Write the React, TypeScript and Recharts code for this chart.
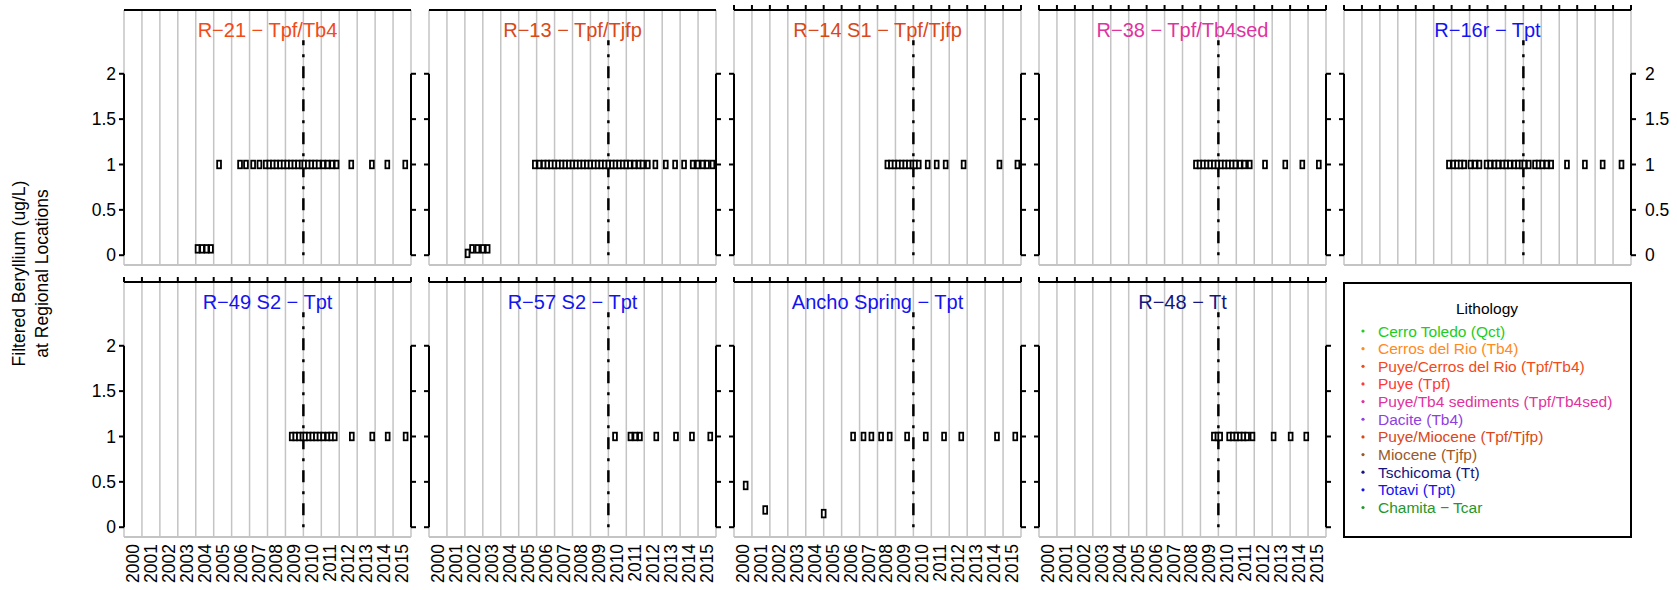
import { ScatterChart, Scatter, XAxis, YAxis, CartesianGrid, ReferenceLine } from 'recharts'

const FONT = '"Liberation Sans", Arial, Helvetica, sans-serif'
const GRID = '#c4c4c4'

// x axis: year boundaries (grid + top ticks) and year labels (centred in each year)
const yearTicks = [2000, 2001, 2002, 2003, 2004, 2005, 2006, 2007, 2008, 2009, 2010, 2011, 2012, 2013, 2014, 2015, 2016]
const yearLabels = ['2000', '2001', '2002', '2003', '2004', '2005', '2006', '2007', '2008', '2009', '2010', '2011', '2012', '2013', '2014', '2015']
const yTicks = [0, 0.5, 1, 1.5, 2]
const yDomain = [-0.108, 2.703]

// reference date line
const refYear = 2010
const refTop = 2.37

// [decimal year, Be ug/L]
const r21 = [
  [2004.1, 0.07], [2004.35, 0.07], [2004.6, 0.07], [2004.85, 0.07],
  [2005.3, 1], [2006.47, 1], [2006.8, 1], [2007.2, 1], [2007.55, 1],
  [2007.9, 1], [2008.1, 1], [2008.3, 1], [2008.5, 1], [2008.7, 1], [2008.9, 1], [2009.1, 1], [2009.3, 1],
  [2009.5, 1], [2009.7, 1], [2009.9, 1], [2010.05, 1], [2010.25, 1], [2010.45, 1], [2010.65, 1], [2010.85, 1],
  [2011.1, 1], [2011.35, 1], [2011.6, 1], [2011.85, 1],
  [2012.67, 1], [2013.82, 1], [2014.68, 1], [2015.68, 1],
]
const r13 = [
  [2002.15, 0.02], [2002.4, 0.07], [2002.7, 0.07], [2003.0, 0.07], [2003.27, 0.07],
  [2005.9, 1], [2006.15, 1], [2006.4, 1], [2006.6, 1], [2006.8, 1], [2007.0, 1], [2007.2, 1], [2007.4, 1],
  [2007.6, 1], [2007.8, 1], [2008.0, 1], [2008.2, 1], [2008.4, 1], [2008.6, 1], [2008.8, 1], [2009.0, 1],
  [2009.2, 1], [2009.4, 1], [2009.6, 1], [2009.8, 1], [2010.0, 1], [2010.2, 1], [2010.4, 1], [2010.6, 1],
  [2010.8, 1], [2011.0, 1], [2011.2, 1], [2011.45, 1], [2011.7, 1], [2011.9, 1],
  [2012.2, 1], [2012.62, 1], [2013.2, 1], [2013.72, 1], [2014.22, 1],
  [2014.7, 1], [2014.98, 1], [2015.25, 1], [2015.5, 1], [2015.8, 1],
]
const r14s1 = [
  [2008.55, 1], [2008.75, 1], [2008.95, 1], [2009.15, 1], [2009.35, 1], [2009.55, 1], [2009.75, 1],
  [2009.95, 1], [2010.1, 1], [2010.3, 1],
  [2010.8, 1], [2011.3, 1], [2011.8, 1], [2012.8, 1], [2014.8, 1], [2015.8, 1],
]
const r38 = [
  [2008.75, 1], [2008.95, 1], [2009.15, 1], [2009.35, 1], [2009.55, 1], [2009.75, 1], [2009.95, 1],
  [2010.15, 1], [2010.35, 1], [2010.55, 1], [2010.75, 1], [2010.95, 1], [2011.2, 1], [2011.45, 1], [2011.75, 1],
  [2012.6, 1], [2013.73, 1], [2014.68, 1], [2015.6, 1],
]
const r16r = [
  [2005.85, 1], [2006.1, 1], [2006.3, 1], [2006.5, 1], [2006.7, 1],
  [2007.05, 1], [2007.3, 1], [2007.55, 1],
  [2007.95, 1], [2008.15, 1], [2008.4, 1], [2008.6, 1], [2008.85, 1], [2009.05, 1], [2009.25, 1],
  [2009.5, 1], [2009.7, 1], [2009.9, 1], [2010.05, 1], [2010.3, 1],
  [2010.65, 1], [2010.85, 1], [2011.05, 1], [2011.3, 1], [2011.55, 1],
  [2012.43, 1], [2013.43, 1], [2014.42, 1], [2015.47, 1],
]
const r49s2 = [
  [2009.35, 1], [2009.55, 1], [2009.75, 1], [2009.95, 1], [2010.1, 1], [2010.3, 1], [2010.5, 1],
  [2010.7, 1], [2010.9, 1], [2011.1, 1], [2011.35, 1], [2011.55, 1], [2011.75, 1],
  [2012.7, 1], [2013.84, 1], [2014.7, 1], [2015.7, 1],
]
const r57s2 = [
  [2010.37, 1], [2011.23, 1], [2011.5, 1], [2011.76, 1],
  [2012.67, 1], [2013.77, 1], [2014.66, 1], [2015.68, 1],
]
const ancho = [
  [2000.65, 0.46], [2001.74, 0.19], [2005.0, 0.15],
  [2006.64, 1], [2007.22, 1], [2007.66, 1], [2008.2, 1], [2008.68, 1], [2009.65, 1],
  [2010.69, 1], [2011.71, 1], [2012.67, 1], [2014.66, 1], [2015.68, 1],
]
const r48 = [
  [2009.75, 1], [2009.95, 1], [2010.1, 1], [2010.6, 1], [2010.8, 1], [2011.0, 1], [2011.2, 1],
  [2011.4, 1], [2011.6, 1], [2011.9, 1], [2013.08, 1], [2014.03, 1], [2014.9, 1],
]

const lithologyNames = [
  'Cerro Toledo (Qct)',
  'Cerros del Rio (Tb4)',
  'Puye/Cerros del Rio (Tpf/Tb4)',
  'Puye (Tpf)',
  'Puye/Tb4 sediments (Tpf/Tb4sed)',
  'Dacite (Tb4)',
  'Puye/Miocene (Tpf/Tjfp)',
  'Miocene (Tjfp)',
  'Tschicoma (Tt)',
  'Totavi (Tpt)',
  'Chamita − Tcar',
]
const lithologyColors = [
  '#22cc22', '#ff8a1e', '#f24a18', '#ff3838', '#e0339f', '#8f3fe0',
  '#d9481a', '#9a5a2a', '#15157f', '#1414f0', '#26962a',
]

const panels = [
  { title: 'R−21 − Tpf/Tb4', lith: 2, data: r21, col: 0, row: 0 },
  { title: 'R−13 − Tpf/Tjfp', lith: 6, data: r13, col: 1, row: 0 },
  { title: 'R−14 S1 − Tpf/Tjfp', lith: 6, data: r14s1, col: 2, row: 0 },
  { title: 'R−38 − Tpf/Tb4sed', lith: 4, data: r38, col: 3, row: 0 },
  { title: 'R−16r − Tpt', lith: 9, data: r16r, col: 4, row: 0 },
  { title: 'R−49 S2 − Tpt', lith: 9, data: r49s2, col: 0, row: 1 },
  { title: 'R−57 S2 − Tpt', lith: 9, data: r57s2, col: 1, row: 1 },
  { title: 'Ancho Spring − Tpt', lith: 9, data: ancho, col: 2, row: 1 },
  { title: 'R−48 − Tt', lith: 8, data: r48, col: 3, row: 1 },
]

// layout
const PANEL_W = 287
const PANEL_H = 255
const colLeft = [124, 429, 734, 1039, 1344]
const rowTop = [10, 282]
const AX_W = 40
const TOP_H = 12
const BOT_H = 50
const CHART_W = PANEL_W + 2 * AX_W
const CHART_H = PANEL_H + TOP_H + BOT_H

const blackLine = { stroke: '#000', strokeWidth: 2 }
const tickText = { fill: '#000', fontSize: 17.5, fontFamily: FONT }

const NoTick = () => <g />

const YearTick = (props: any) => {
  const { x, payload } = props
  return (
    <text
      transform={`translate(${x},${TOP_H + PANEL_H + 7}) rotate(-90)`}
      textAnchor="end"
      dominantBaseline="central"
      fontSize={17.5}
      fontFamily={FONT}
      fill="#000"
    >
      {yearLabels[Math.floor(payload.value) - 2000]}
    </text>
  )
}

const Marker = (props: any) => {
  const { cx, cy } = props
  if (cx == null || cy == null) return <g />
  return <rect x={cx - 1.9} y={cy - 3.8} width={3.8} height={7.6} fill="#fff" stroke="#000" strokeWidth={1.8} />
}

function Panel({ p }: { p: typeof panels[number] }) {
  const points = p.data.map(([date, be]) => ({ date, be }))
  const leftLabels = p.col === 0
  const rightLabels = p.col === 4
  const topTicks = !(p.row === 0 && p.col < 2)
  const bottomLabels = p.row === 1
  return (
    <div style={{ position: 'absolute', left: colLeft[p.col] - AX_W, top: rowTop[p.row] - TOP_H, width: CHART_W, height: CHART_H }}>
      <ScatterChart width={CHART_W} height={CHART_H} margin={{ top: 0, right: 0, bottom: 0, left: 0 }}>
        <CartesianGrid xAxisId="top" yAxisId="left" horizontal={false} stroke={GRID} strokeWidth={1.5} />
        <XAxis
          xAxisId="top"
          orientation="top"
          type="number"
          dataKey="date"
          domain={[2000, 2016]}
          ticks={yearTicks}
          interval={0}
          height={TOP_H}
          stroke="#000"
          tick={NoTick}
          tickLine={topTicks ? blackLine : false}
          tickSize={5}
          axisLine={blackLine}
          allowDataOverflow
        />
        <XAxis
          xAxisId="bottom"
          orientation="bottom"
          type="number"
          dataKey="date"
          domain={[2000, 2016]}
          ticks={yearLabels.map((y) => Number(y) + 0.5)}
          interval={0}
          height={BOT_H}
          tick={bottomLabels ? YearTick : NoTick}
          tickLine={false}
          axisLine={{ stroke: GRID, strokeWidth: 2 }}
          allowDataOverflow
        />
        <YAxis
          yAxisId="left"
          orientation="left"
          type="number"
          dataKey="be"
          domain={yDomain}
          ticks={yTicks}
          interval={0}
          width={AX_W}
          stroke="#000"
          axisLine={false}
          tickLine={blackLine}
          tickSize={5}
          tickMargin={3}
          tick={leftLabels ? tickText : NoTick}
          allowDataOverflow
        />
        <YAxis
          yAxisId="right"
          orientation="right"
          type="number"
          dataKey="be"
          domain={yDomain}
          ticks={yTicks}
          interval={0}
          width={AX_W}
          stroke="#000"
          axisLine={false}
          tickLine={blackLine}
          tickSize={5}
          tickMargin={9}
          tick={rightLabels ? { ...tickText, textAnchor: 'start' } : NoTick}
          allowDataOverflow
        />
        <ReferenceLine xAxisId="top" yAxisId="left" segment={[{ x: 2000, y: 0 }, { x: 2000, y: 2 }]} stroke="#000" strokeWidth={2} />
        <ReferenceLine xAxisId="top" yAxisId="left" segment={[{ x: 2016, y: 0 }, { x: 2016, y: 2 }]} stroke="#000" strokeWidth={2} />
        <ReferenceLine
          xAxisId="top"
          yAxisId="left"
          segment={[{ x: refYear, y: 0 }, { x: refYear, y: refTop }]}
          stroke="#000"
          strokeWidth={2.5}
          strokeDasharray="3 9 12 9"
        />
        <Scatter xAxisId="top" yAxisId="left" data={points} shape={Marker} isAnimationActive={false} />
      </ScatterChart>
    </div>
  )
}

export default function App() {
  const legendX = 1344
  const legendY = 283
  return (
    <div style={{ position: 'absolute', left: 0, top: 0, width: 1677, height: 590, background: '#fff', fontFamily: FONT }}>
      {panels.map((p) => (
        <Panel key={p.title} p={p} />
      ))}
      <svg width={1677} height={590} style={{ position: 'absolute', left: 0, top: 0, pointerEvents: 'none' }}>
        {panels.map((p) => (
          <text
            key={p.title}
            x={colLeft[p.col] + PANEL_W / 2}
            y={rowTop[p.row] + 26.7}
            textAnchor="middle"
            fontSize={20}
            fontFamily={FONT}
            fill={lithologyColors[p.lith]}
          >
            {p.title}
          </text>
        ))}
        <text transform="translate(19,273.5) rotate(-90)" textAnchor="middle" dominantBaseline="central" fontSize={17.5} fontFamily={FONT} fill="#000">
          Filtered Beryllium (ug/L)
        </text>
        <text transform="translate(42,273.5) rotate(-90)" textAnchor="middle" dominantBaseline="central" fontSize={17.5} fontFamily={FONT} fill="#000">
          at Regional Locations
        </text>
        <rect x={legendX} y={legendY} width={PANEL_W} height={254} fill="#fff" stroke="#000" strokeWidth={2} />
        <text x={legendX + 143} y={legendY + 25} textAnchor="middle" dominantBaseline="central" fontSize={15.5} fontFamily={FONT} fill="#000">
          Lithology
        </text>
        {lithologyNames.map((name, i) => (
          <g key={name}>
            <circle cx={legendX + 19} cy={legendY + 48 + i * 17.65} r={1.6} fill={lithologyColors[i]} />
            <text x={legendX + 34} y={legendY + 48 + i * 17.65} dominantBaseline="central" fontSize={15.5} fontFamily={FONT} fill={lithologyColors[i]}>
              {name}
            </text>
          </g>
        ))}
      </svg>
    </div>
  )
}
